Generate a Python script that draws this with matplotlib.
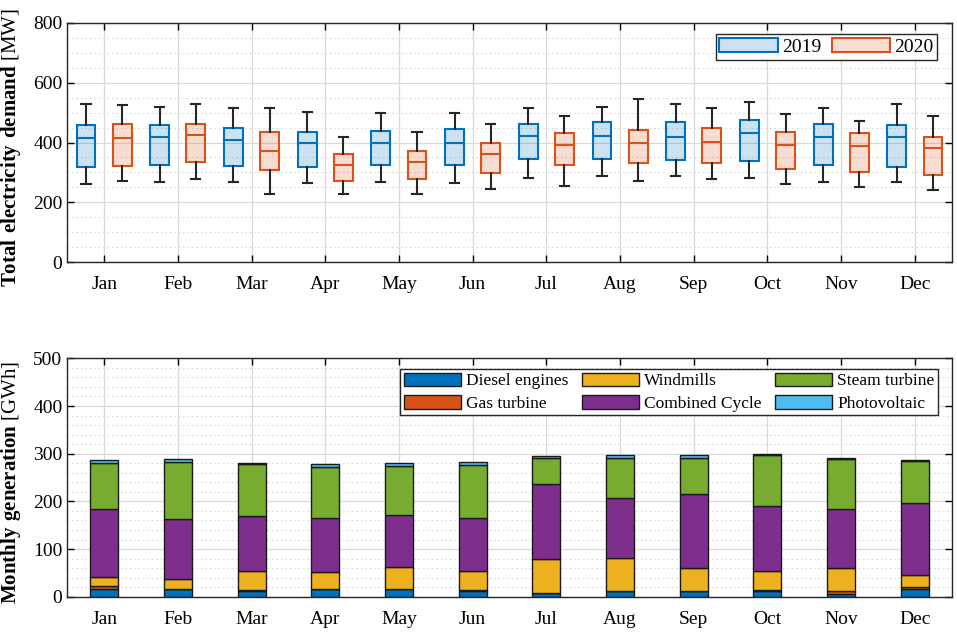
import matplotlib
matplotlib.use("Agg")
import matplotlib.pyplot as plt
import numpy as np
from matplotlib.patches import Patch
from matplotlib.ticker import MultipleLocator

plt.rcParams['font.family'] = ['Liberation Serif', 'DejaVu Serif']
plt.rcParams['mathtext.fontset'] = 'custom'
plt.rcParams['mathtext.rm'] = 'Liberation Serif'
plt.rcParams['mathtext.bf'] = 'Liberation Serif:bold'

months = ['Jan', 'Feb', 'Mar', 'Apr', 'May', 'Jun',
          'Jul', 'Aug', 'Sep', 'Oct', 'Nov', 'Dec']

# Demand box statistics [MW]
d2019_whislo = [260, 269, 269, 264, 269, 264, 280, 287, 287, 280, 269, 269]
d2019_q1     = [317, 326, 321, 317, 326, 326, 344, 344, 341, 337, 326, 317]
d2019_med    = [414, 419, 408, 397, 400, 400, 423, 423, 418, 431, 418, 418]
d2019_q3     = [459, 458, 450, 434, 439, 446, 462, 469, 469, 476, 462, 458]
d2019_whishi = [528, 520, 516, 503, 497, 497, 514, 519, 530, 534, 514, 528]

d2020_whislo = [273, 277, 229, 229, 229, 246, 256, 272, 277, 260, 252, 243]
d2020_q1     = [322, 334, 308, 272, 279, 298, 326, 333, 333, 313, 302, 291]
d2020_med    = [414, 424, 373, 326, 336, 362, 392, 398, 403, 392, 388, 381]
d2020_q3     = [462, 462, 434, 361, 372, 400, 431, 442, 448, 434, 431, 418]
d2020_whishi = [524, 528, 514, 418, 434, 462, 489, 546, 514, 496, 472, 489]

# Monthly generation [GWh]
diesel    = [17, 16, 12.5, 16, 16, 13, 7.5, 11, 11, 13, 6, 17]
gas       = [5, 1, 1, 1, 1, 1.5, 0.5, 1, 1, 1, 5, 4]
windmills = [20, 20.5, 41.5, 34, 45.5, 40.5, 71, 70, 48, 39.5, 50, 25]
combined  = [141, 126.5, 114, 115, 108.5, 111, 157, 125, 154.5, 136.5, 123, 151]
steam     = [97.5, 119, 110, 107, 104, 110, 54, 85, 76.5, 106.5, 105, 88]
pv        = [7, 6, 2, 5, 5, 7, 5, 5, 5.5, 2, 1.5, 2.5]

gen_labels = ['Diesel engines', 'Gas turbine', 'Windmills',
              'Combined Cycle', 'Steam turbine', 'Photovoltaic']
gen_colors = ['#0072BD', '#D95319', '#EDB120', '#7E2F8E', '#77AC30', '#4DBEEE']

c2019 = '#0072BD'
c2020 = '#D95319'

fig = plt.figure(figsize=(9.57, 6.33), dpi=100)
ax1 = fig.add_axes([0.0703, 0.5856, 0.9242, 0.3785])
ax2 = fig.add_axes([0.0703, 0.0573, 0.9242, 0.3766])

x = np.arange(1, 13)


def style_axes(ax):
    ax.set_axisbelow(True)
    ax.grid(which='major', axis='both', color='#d9d9d9', linewidth=0.9, linestyle='-')
    ax.grid(which='minor', axis='y', color='#d9d9d9', linewidth=0.8, linestyle=(0, (1.5, 2.5)))
    ax.tick_params(which='both', direction='in', top=True, right=True,
                   labelsize=14, width=1.0)
    ax.tick_params(which='major', length=5)
    ax.tick_params(which='minor', length=0)
    ax.tick_params(axis='x', which='major', pad=10)
    for s in ax.spines.values():
        s.set_linewidth(1.0)
        s.set_color('#262626')
    ax.set_xlim(0.5, 12.5)
    ax.set_xticks(x)
    ax.set_xticklabels(months)


def make_stats(lo, q1, med, q3, hi):
    return [dict(whislo=a, q1=b, med=c, q3=d, whishi=e, fliers=[])
            for a, b, c, d, e in zip(lo, q1, med, q3, hi)]


off = 0.245
bw = 0.255
for stats, col, pos in [
        (make_stats(d2019_whislo, d2019_q1, d2019_med, d2019_q3, d2019_whishi), c2019, x - off),
        (make_stats(d2020_whislo, d2020_q1, d2020_med, d2020_q3, d2020_whishi), c2020, x + off)]:
    ax1.bxp(stats, positions=pos, widths=bw, capwidths=0.125, patch_artist=True,
            showfliers=False, manage_ticks=False,
            boxprops=dict(facecolor=matplotlib.colors.to_rgba(col, 0.2), edgecolor=col, linewidth=1.5),
            medianprops=dict(color=col, linewidth=1.5),
            whiskerprops=dict(color='#262626', linewidth=1.5),
            capprops=dict(color='#262626', linewidth=1.5))

style_axes(ax1)
ax1.set_ylim(0, 800)
ax1.yaxis.set_major_locator(MultipleLocator(200))
ax1.yaxis.set_minor_locator(MultipleLocator(50))
ax1.set_ylabel(r'$\mathbf{Total\ electricity\ demand}$ [MW]', fontsize=15)
ax1.yaxis.set_label_coords(-0.0495, 0.481)

h1 = [Patch(facecolor=matplotlib.colors.to_rgba(c2019, 0.2), edgecolor=c2019, linewidth=1.5, label='2019'),
      Patch(facecolor=matplotlib.colors.to_rgba(c2020, 0.2), edgecolor=c2020, linewidth=1.5, label='2020')]
leg1 = ax1.legend(handles=h1, loc='upper right', bbox_to_anchor=(0.9833, 0.953),
                  ncol=2, fontsize=14, frameon=True,
                  fancybox=False, edgecolor='#262626', framealpha=1,
                  handlelength=3.0, handleheight=0.75, columnspacing=0.55,
                  handletextpad=0.2, borderpad=0.2, borderaxespad=0.0)
leg1.get_frame().set_linewidth(1.0)

# Stacked bars
series = [diesel, gas, windmills, combined, steam, pv]
bottom = np.zeros(12)
bars = []
for vals, col, lab in zip(series, gen_colors, gen_labels):
    b = ax2.bar(x, vals, width=0.38, bottom=bottom, color=col, edgecolor='#1a1a1a',
                linewidth=1.0, label=lab)
    bars.append(b)
    bottom = bottom + np.array(vals)

style_axes(ax2)
ax2.set_ylim(0, 500)
ax2.yaxis.set_major_locator(MultipleLocator(100))
ax2.yaxis.set_minor_locator(MultipleLocator(20))
ax2.set_ylabel(r'$\mathbf{Monthly\ generation}$ [GWh]', fontsize=15)
ax2.yaxis.set_label_coords(-0.0495, 0.478)

leg2 = ax2.legend(handles=bars, loc='upper right', bbox_to_anchor=(0.9844, 0.955),
                  ncol=3, fontsize=12.5, frameon=True,
                  fancybox=False, edgecolor='#262626', framealpha=1,
                  handlelength=3.3, handleheight=0.85, columnspacing=0.75,
                  handletextpad=0.3, borderpad=0.2, borderaxespad=0.0,
                  labelspacing=0.3)
leg2.get_frame().set_linewidth(1.0)

fig.savefig('out.png', dpi=100)
